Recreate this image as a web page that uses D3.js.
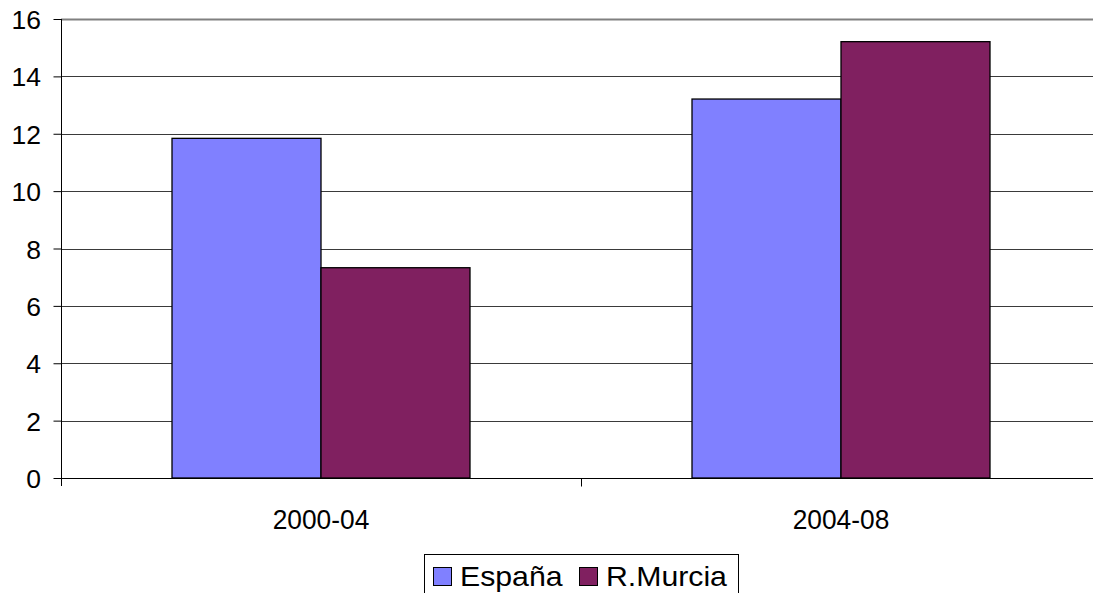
<!DOCTYPE html>
<html><head><meta charset="utf-8">
<script src="https://cdn.jsdelivr.net/npm/d3@7"></script>
<style>body{margin:0;background:#fff}svg{display:block}text{font-family:"Liberation Sans",Arial,sans-serif;fill:#000}</style>
</head><body>
<svg id="c" width="1093" height="593"></svg>
<script>
const categories = ["2000-04", "2004-08"];
const seriesNames = ["España", "R.Murcia"];
const espana = [11.84, 13.21];
const murcia = [7.33, 15.21];
const yTicks = [0, 2, 4, 6, 8, 10, 12, 14, 16];
const colors = ["#8080FF", "#802060"];

(function () {
const series = [espana, murcia];
const svg = d3.select("#c");
const pL = 61, pR = 1101, pT = 19, pB = 478;
const fs = 26.5;

const y = d3.scaleLinear().domain([0, 16]).range([pB, pT]);
const x0 = d3.scaleBand().domain(categories).range([pL, pR]);
const x1 = d3.scaleBand().domain(seriesNames).range([0, x0.bandwidth()]).paddingInner(0).paddingOuter(0.745);

// gridlines
svg.append("g").selectAll("line").data(yTicks.filter(d => d > 0)).join("line")
  .attr("x1", pL).attr("x2", pR).attr("y1", d => Math.round(y(d)) + 0.5).attr("y2", d => Math.round(y(d)) + 0.5)
  .attr("stroke", d => d === 16 ? "#808080" : "#3a3a3a").attr("stroke-width", d => d === 16 ? 2 : 1);

// bars
const g = svg.append("g");
categories.forEach((c, ci) => {
  seriesNames.forEach((s, si) => {
    const v = series[si][ci];
    g.append("rect")
      .attr("x", x0(c) + x1(s)).attr("width", x1.bandwidth())
      .attr("y", y(v)).attr("height", y(0) - y(v))
      .attr("fill", colors[si]).attr("stroke", "#000").attr("stroke-width", 1.3);
  });
});

// y axis
const yAxis = d3.axisLeft(y).tickValues(yTicks).tickSize(8).tickPadding(0).tickFormat(d3.format("d"));
const ya = svg.append("g").attr("transform", `translate(${pL + 0.5},0)`).call(yAxis);
ya.select(".domain").remove();
ya.append("line").attr("y1", pT).attr("y2", pB + 8).attr("stroke", "#000");
ya.selectAll(".tick line").attr("stroke", "#000");
ya.selectAll(".tick text").remove();
ya.selectAll(".tick").each(function(d) {
  d3.select(this).append("text").attr("text-anchor", "end")
    .attr("x", -20.5).attr("y", 9.5)
    .style("font-size", fs + "px").text(d);
});

// x axis
const xAxis = d3.axisBottom(x0).tickValues([]).tickSize(0);
const xa = svg.append("g").attr("transform", `translate(0,${pB + 0.5})`).call(xAxis);
xa.select(".domain").remove();
xa.append("line").attr("x1", pL).attr("x2", pR).attr("stroke", "#000");
xa.append("line").attr("x1", Math.round(x0(categories[1])) + 0.5).attr("x2", Math.round(x0(categories[1])) + 0.5)
  .attr("y1", 0).attr("y2", 8).attr("stroke", "#000");
categories.forEach(c => {
  xa.append("text").attr("text-anchor", "middle")
    .attr("transform", `translate(${x0(c) + x0.bandwidth() / 2},50.5) scale(0.94,1)`)
    .style("font-size", "28px").text(c);
});

// legend
const lg = svg.append("g");
lg.append("rect").attr("x", 424.5).attr("y", 554.5).attr("width", 314).attr("height", 50)
  .attr("fill", "#fff").attr("stroke", "#000");
const lx = [433, 579];
seriesNames.forEach((s, i) => {
  lg.append("rect").attr("x", lx[i] + 0.5).attr("y", 567.5).attr("width", 18).attr("height", 18)
    .attr("fill", colors[i]).attr("stroke", "#000");
  lg.append("text").attr("transform", `translate(${lx[i] + 27},585.5) scale(1.08,1)`)
    .style("font-size", "28px").text(s);
});
})();
</script>
</body></html>
